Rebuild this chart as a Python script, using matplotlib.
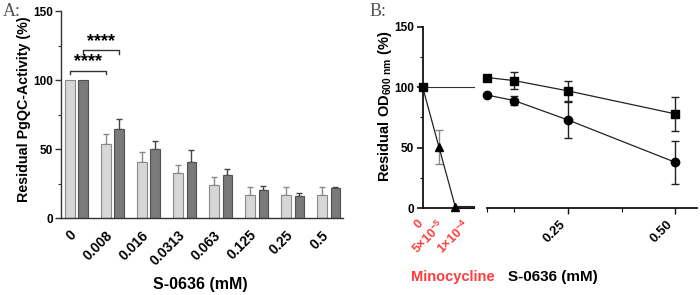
import matplotlib
matplotlib.use("Agg")
import matplotlib.pyplot as plt
import numpy as np
from matplotlib.patches import Rectangle
from matplotlib.ticker import MultipleLocator, FixedLocator

plt.rcParams['font.family'] = ['Liberation Sans', 'DejaVu Sans']
plt.rcParams['font.weight'] = 'bold'
plt.rcParams['mathtext.default'] = 'regular'

# ---------------- Panel A data ----------------
conc_labels = ["0", "0.008", "0.016", "0.0313", "0.063", "0.125", "0.25", "0.5"]
light_vals = [100, 54, 40.5, 32.5, 24, 16.5, 16.5, 16.5]
light_err = [0, 7, 7.5, 6, 6, 6, 6.3, 6.3]
dark_vals = [100, 64.8, 49.8, 40.5, 31.3, 20.5, 16.1, 22.2]
dark_err = [0, 6.7, 6, 8.7, 4.2, 3.1, 2, 0.7]

# ---------------- Panel B data ----------------
mino_x = [0, 5e-5, 1e-4]
mino_y = [100, 50.3, 1]
mino_err = [0, 14, 0]
mino_ticklabels = ["0", "5×10$^{-5}$", "1×10$^{-4}$"]

s_x = [0.0625, 0.125, 0.25, 0.5]
sq_y = [108, 105.5, 97, 78]
sq_err = [0, 7, 8.5, 14]
ci_y = [93.5, 89, 73, 38]
ci_err = [0, 3.5, 15, 18]
s_ticks = [0.25, 0.50]
s_ticklabels = ["0.25", "0.50"]

W, H = 700, 295
fig = plt.figure(figsize=(W / 100, H / 100), dpi=100)

def rect(x0, y0, x1, y1):
    return [x0 / W, 1 - y1 / H, (x1 - x0) / W, (y1 - y0) / H]

axcol = '#333333'
red = '#ff3b3b'

# ---------------- Panel A ----------------
axA = fig.add_axes(rect(61, 11, 343, 218.3))
x = np.arange(len(conc_labels))
bw = 0.26
off = 0.185
axA.bar(x - off, light_vals, bw, color='#d6d6d6', edgecolor='#8a8a8a', linewidth=0.8, zorder=2)
axA.bar(x + off, dark_vals, bw, color='#7a7a7a', edgecolor='#505050', linewidth=0.8, zorder=2)
for i in range(1, len(x)):
    axA.errorbar(x[i] - off, light_vals[i], yerr=[[0], [light_err[i]]], fmt='none',
                 ecolor='#8a8a8a', elinewidth=1, capsize=2.2, capthick=1, zorder=1)
    axA.errorbar(x[i] + off, dark_vals[i], yerr=[[0], [dark_err[i]]], fmt='none',
                 ecolor='#444444', elinewidth=1, capsize=2.2, capthick=1, zorder=1)
axA.set_xlim(-0.43, 7.40)
axA.set_ylim(0, 150)
axA.set_xticks(x + 0.08)
axA.set_xticklabels(conc_labels, rotation=45, ha='right', fontsize=10, fontweight='bold')
axA.tick_params(axis='x', length=0, pad=7)
axA.set_yticks([0, 50, 100, 150])
axA.yaxis.set_minor_locator(MultipleLocator(25))
axA.tick_params(axis='y', which='major', length=4, width=1, labelsize=8.5, color=axcol, pad=2)
axA.tick_params(axis='y', which='minor', length=2, width=0.8, color=axcol)
for lab in axA.get_yticklabels():
    lab.set_fontweight('bold')
for s in ['top', 'right']:
    axA.spines[s].set_visible(False)
for s in ['left', 'bottom']:
    axA.spines[s].set_color(axcol)
    axA.spines[s].set_linewidth(1)

def bracket(ax, x0, x1, y, h):
    ax.plot([x0, x0, x1, x1], [y - h, y, y, y - h], color='#333333', lw=1, clip_on=False)
    ax.text((x0 + x1) / 2, y + 0.5, "****", ha='center', va='bottom', fontsize=13, fontweight='bold')

bracket(axA, 0 - off, 1 - off, 106.7, 2.5)
bracket(axA, 0 + off, 1 + off, 121.5, 2.5)

fig.text(24 / W, 1 - 109 / H, "Residual PgQC-Activity (%)", rotation=90, ha='center', va='center',
         fontsize=10.3, fontweight='bold')
fig.text(200 / W, 1 - 285 / H, "S-0636 (mM)", ha='center', va='center', fontsize=11.5, fontweight='bold')
fig.text(3 / W, 1 - 12 / H, "A:", ha='left', va='center', fontsize=13, family='Liberation Serif',
         fontweight='normal', color='#555555')
fig.text(370 / W, 1 - 12 / H, "B:", ha='left', va='center', fontsize=13, family='Liberation Serif',
         fontweight='normal', color='#555555')

# ---------------- Panel B left (Minocycline) ----------------
axL = fig.add_axes(rect(422.7, 26.7, 474, 208.3))
xmaxL = 1.57e-4
axL.set_xlim(0, xmaxL)
axL.set_ylim(0, 150)
axL.plot([0, xmaxL], [100, 100], color='#333333', lw=0.8, clip_on=False)
axL.add_patch(Rectangle((1e-4, 0), xmaxL - 1e-4, 2.2, fill=False, edgecolor='#222222', lw=0.8, clip_on=False))
axL.errorbar(mino_x[1], mino_y[1], yerr=mino_err[1], fmt='none', ecolor='#888888', elinewidth=1,
             capsize=3, capthick=1, zorder=2)
axL.plot(mino_x, mino_y, color='#222222', lw=0.9, zorder=3)
axL.plot(mino_x[1:], mino_y[1:], '^', color='black', markersize=5.5, zorder=4, clip_on=False)
axL.plot([0], [100], 's', color='black', markersize=6, zorder=5, clip_on=False)
# tick labels sit slightly right of the data columns in the reference
axL.set_xticks([0.08e-4, 7.8e-5, 1.55e-4])
axL.set_xticklabels(mino_ticklabels, rotation=45, ha='right', fontsize=9, fontweight='bold', color=red)
axL.tick_params(axis='x', length=0, pad=7)
axL.set_yticks([0, 50, 100, 150])
axL.yaxis.set_minor_locator(MultipleLocator(25))
axL.tick_params(axis='y', which='major', length=4, width=1.2, labelsize=8.5, color='#111111', pad=2)
axL.tick_params(axis='y', which='minor', length=2, width=0.8, color='#111111')
for lab in axL.get_yticklabels():
    lab.set_fontweight('bold')
for s in ['top', 'right']:
    axL.spines[s].set_visible(False)
for s in ['left', 'bottom']:
    axL.spines[s].set_color('#111111')
    axL.spines[s].set_linewidth(1.3)

# ---------------- Panel B right (S-0636) ----------------
axR = fig.add_axes(rect(487.3, 26.7, 696.7, 208.3))
axR.set_xlim(0.0625, 0.55)
axR.set_ylim(0, 150)
axR.errorbar(s_x[1:], sq_y[1:], yerr=sq_err[1:], fmt='none', ecolor='#222222', elinewidth=1,
             capsize=3, capthick=1, zorder=2)
axR.errorbar(s_x[1:], ci_y[1:], yerr=ci_err[1:], fmt='none', ecolor='#222222', elinewidth=1,
             capsize=3, capthick=1, zorder=2)
axR.plot(s_x, sq_y, color='#222222', lw=0.9, zorder=3)
axR.plot(s_x, ci_y, color='#222222', lw=0.9, zorder=3)
axR.plot(s_x, sq_y, 's', color='black', markersize=6, zorder=4, clip_on=False)
axR.plot(s_x, ci_y, 'o', color='black', markersize=6, zorder=4, clip_on=False)
axR.set_xticks(s_ticks)
axR.set_xticklabels(s_ticklabels, rotation=45, ha='right', fontsize=9.5, fontweight='bold')
for lab in axR.get_xticklabels():
    lab.set_rotation_mode('default')
axR.xaxis.set_minor_locator(FixedLocator([0.0625, 0.125, 0.375]))
axR.tick_params(axis='x', which='major', length=4, width=1, color='#111111', pad=3)
axR.tick_params(axis='x', which='minor', length=3, width=0.8, color='#111111')
axR.set_yticks([])
for s in ['top', 'right', 'left']:
    axR.spines[s].set_visible(False)
axR.spines['bottom'].set_color('#111111')
axR.spines['bottom'].set_linewidth(1.3)

fig.text(385 / W, 1 - 106 / H, "Residual OD$_{600\\ nm}$ (%)", rotation=90, ha='center', va='center',
         fontsize=10.5, fontweight='bold')
fig.text(453 / W, 1 - 277 / H, "Minocycline", ha='center', va='center', fontsize=10.5, fontweight='bold', color=red)
fig.text(553 / W, 1 - 277 / H, "S-0636 (mM)", ha='center', va='center', fontsize=11, fontweight='bold')

fig.savefig("out.png", dpi=100)
